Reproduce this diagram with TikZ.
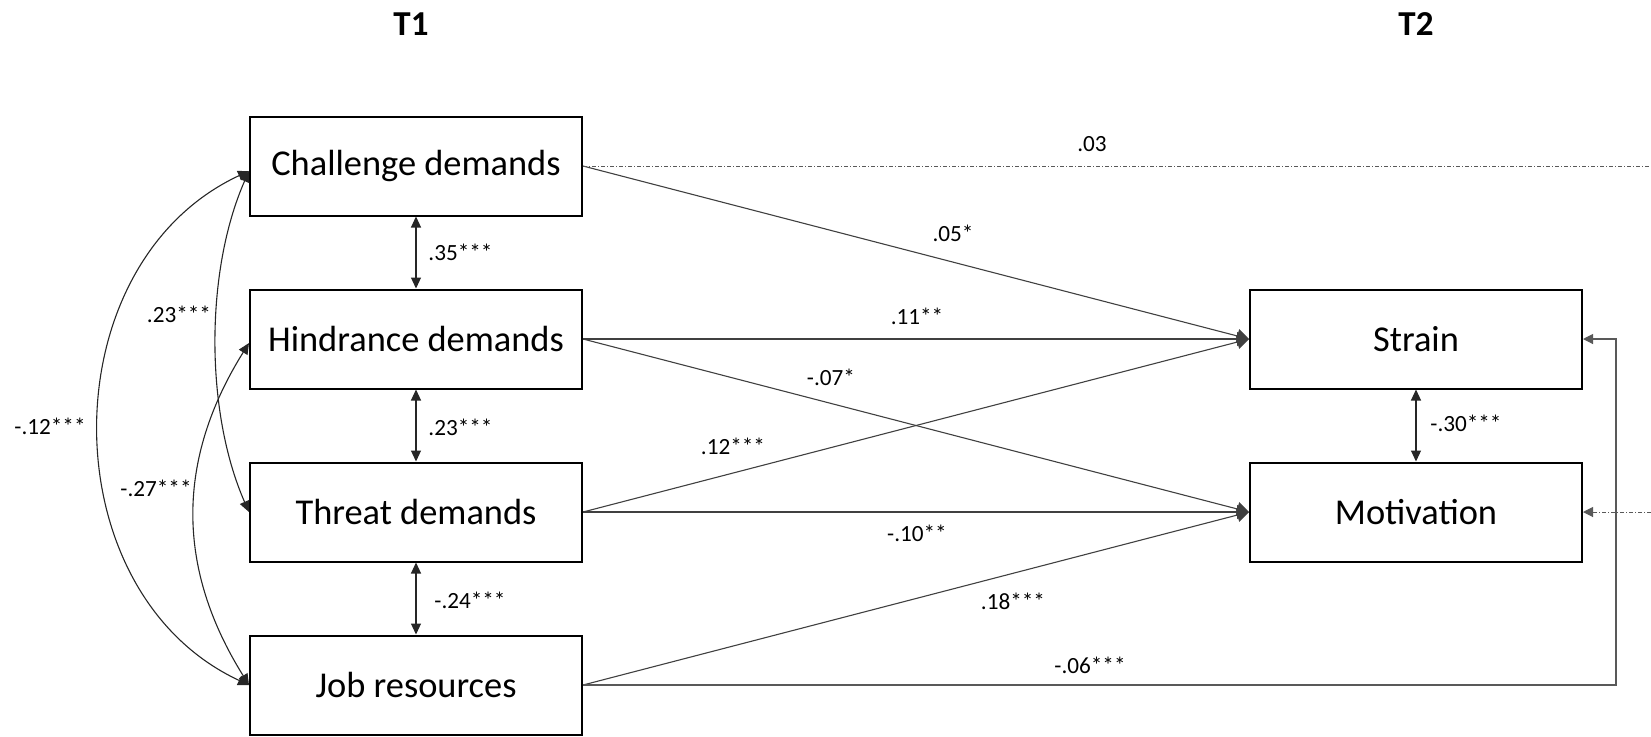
\documentclass[tikz,border=0pt]{standalone}
\usepackage{fontspec}
\setmainfont{Carlito}
\usetikzlibrary{arrows.meta}

\tikzset{
  var/.style={draw=black, line width=1pt, minimum width=166pt, minimum height=49.5pt,
    inner sep=0pt, font=\fontsize{18.2}{20}\selectfont},
  coef/.style={font=\fontsize{11.6}{13}\selectfont, inner sep=1pt},
  wave/.style={font=\bfseries\fontsize{17.5}{19}\selectfont},
  effect/.style={draw=black!75, line width=0.55pt, -{Triangle[length=6pt,width=7pt]}},
  cov/.style={draw=black!85, line width=0.55pt,
    {Triangle[length=5.5pt,width=5pt]}-{Triangle[length=5.5pt,width=5pt]}},
  stab/.style={draw=black!65, line width=0.5pt, dash pattern=on 2pt off 1pt on 0.5pt off 1pt},
  smalltip/.style={-{Triangle[length=5pt,width=5pt]}}
}

\begin{document}
\begin{tikzpicture}[x=0.5pt,y=-0.5pt]
\useasboundingbox (0,0) rectangle (1651,736);

% wave headers
\node[wave] (t1) at (411,24) {T1};
\node[wave] (t2) at (1416,24) {T2};

% T1 predictors
\node[var] (chal) at (416,166) {Challenge demands};
\node[var] (hind) at (416,339) {Hindrance demands};
\node[var] (thre) at (416,512) {Threat demands};
\node[var] (job)  at (416,685) {Job resources};

% T2 outcomes
\node[var] (strain) at (1416,339) {Strain};
\node[var] (motiv)  at (1416,512) {Motivation};

% auxiliary points
\coordinate (edgeTop) at (1651,166);
\coordinate (edgeMot) at (1651,512);
\coordinate (loopT) at (1616,339);

% correlations between neighbouring predictors
\draw[cov] (chal.south) -- (hind.north);
\draw[cov] (hind.south) -- (thre.north);
\draw[cov] (thre.south) -- (job.north);
\draw[cov] (strain.south) -- (motiv.north);
\node[coef, anchor=west] (c1) at (426,252) {.35***};
\node[coef, anchor=west] (c2) at (426,427) {.23***};
\node[coef, anchor=west] (c3) at (432,600) {-.24***};
\node[coef, anchor=west] (c4) at (1428,423) {-.30***};

% curved correlations on the left
\draw[cov] ([yshift=-2.5pt]chal.west) .. controls +(-200,93) and +(-200,-93) .. (job.west);
\draw[cov] ([yshift=-2.5pt]chal.west) .. controls +(-44,100) and +(-44,-100) .. (thre.west);
\draw[cov] ([yshift=-2pt]hind.west) .. controls +(-73,117) and +(-73,-117) .. (job.west);
\node[coef] (c5) at (179,314) {.23***};
\node[coef] (c6) at (50,426) {-.12***};
\node[coef] (c7) at (156,488) {-.27***};

% cross-lagged paths
\draw[effect] (chal.east) -- (strain.west);
\draw[effect] (hind.east) -- (strain.west);
\draw[effect] (thre.east) -- (strain.west);
\draw[effect] (hind.east) -- (motiv.west);
\draw[effect] (thre.east) -- (motiv.west);
\draw[effect] (job.east) -- (motiv.west);
\node[coef] (p1) at (953,233) {.05*};
\node[coef] (p2) at (917,316) {.11**};
\node[coef] (p3) at (831,377) {-.07*};
\node[coef] (p4) at (733,446) {.12***};
\node[coef] (p5) at (917,533) {-.10**};
\node[coef] (p6) at (1013,601) {.18***};

% job resources to strain around the right side
\draw[draw=black!65, line width=0.55pt, smalltip] (job.east) -| (loopT) -- (strain.east);
\node[coef] (p7) at (1090,665) {-.06***};

% non-significant paths leaving the frame
\draw[stab] (chal.east) -- (edgeTop);
\node[coef] (p8) at (1092,144) {.03};
\draw[stab, smalltip] (edgeMot) -- (motiv.east);
\end{tikzpicture}
\end{document}
